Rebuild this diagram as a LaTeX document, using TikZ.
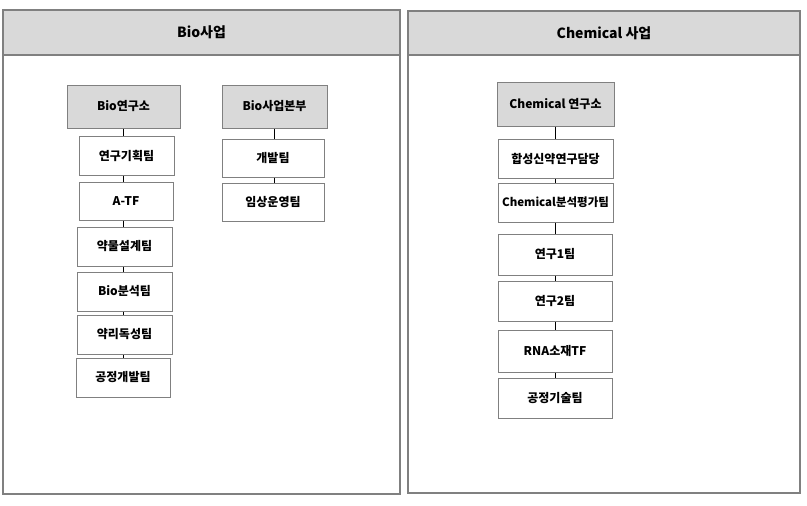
\documentclass[tikz,border=0pt]{standalone}
\usepackage{fontspec}
\setmainfont{Noto Sans CJK KR}
\begin{document}
\begin{tikzpicture}[x=1pt,y=-1pt,
  panel/.style={draw=framegray, line width=1.3pt},
  headbox/.style={draw=framegray, line width=1.3pt, fill=headgray},
  box/.style={draw=framegray, line width=1pt, fill=white, inner sep=0pt, font=\fontsize{12}{14}\selectfont\bfseries},
  graybox/.style={box, fill=headgray},
  link/.style={draw=black, line width=0.9pt},
  headtext/.style={font=\fontsize{14}{16}\selectfont\bfseries, inner sep=0pt}]
\definecolor{framegray}{HTML}{808080}
\definecolor{headgray}{HTML}{D9D9D9}
\useasboundingbox (0,0) rectangle (807,506);
% panels
\draw[panel] (3,10) rectangle (400,494);
\draw[headbox] (3,10) rectangle (400,55);
\node[headtext] (bioHead) at (201.5,32.5) {Bio사업};
\draw[panel] (408,11) rectangle (800,493);
\draw[headbox] (408,11) rectangle (800,55);
\node[headtext] (chemHead) at (604,33) {Chemical 사업};
% Bio left column
\node[graybox, minimum width=113, minimum height=43] (bioLab) at (123.5,106.5) {Bio연구소};
\node[box, minimum width=95, minimum height=39] (plan) at (126.5,155.5) {연구기획팀};
\node[box, minimum width=94, minimum height=38] (atf) at (126,201) {A-TF};
\node[box, minimum width=95, minimum height=39] (drug) at (124.5,246.5) {약물설계팀};
\node[box, minimum width=95, minimum height=39] (anal) at (124.5,291.5) {Bio분석팀};
\node[box, minimum width=95, minimum height=39] (tox) at (124.5,334.5) {약리독성팀};
\node[box, minimum width=94, minimum height=39] (proc) at (123,377.5) {공정개발팀};
% Bio right column
\node[graybox, minimum width=105, minimum height=43] (bioBiz) at (274.5,106.5) {Bio사업본부};
\node[box, minimum width=102, minimum height=38] (dev) at (273,158) {개발팀};
\node[box, minimum width=102, minimum height=38] (clin) at (273,202) {임상운영팀};
% Chemical column
\node[graybox, minimum width=117, minimum height=44] (chemLab) at (555.5,104) {Chemical 연구소};
\node[box, minimum width=115, minimum height=39] (syn) at (555.5,158.5) {합성신약연구담당};
\node[box, minimum width=115, minimum height=39] (chemAn) at (555.5,202.5) {\fontsize{11.5}{14}\selectfont Chemical분석평가팀};
\node[box, minimum width=114, minimum height=41] (r1) at (555,254.5) {연구1팀};
\node[box, minimum width=114, minimum height=40] (r2) at (555,301) {연구2팀};
\node[box, minimum width=114, minimum height=42] (rna) at (555,351) {RNA소재TF};
\node[box, minimum width=114, minimum height=40] (proc2) at (555,398) {공정기술팀};
% connectors
\foreach \a/\b in {bioLab/plan, plan/atf, atf/drug, drug/anal, anal/tox, tox/proc}
  \draw[link] (bioLab.south |- \a.south) -- (bioLab.south |- \b.north);
\foreach \a/\b in {bioBiz/dev, dev/clin}
  \draw[link] (bioBiz.south |- \a.south) -- (bioBiz.south |- \b.north);
\foreach \a/\b in {chemLab/syn, syn/chemAn, chemAn/r1, r1/r2, r2/rna, rna/proc2}
  \draw[link] (chemLab.south |- \a.south) -- (chemLab.south |- \b.north);
\end{tikzpicture}
\end{document}
